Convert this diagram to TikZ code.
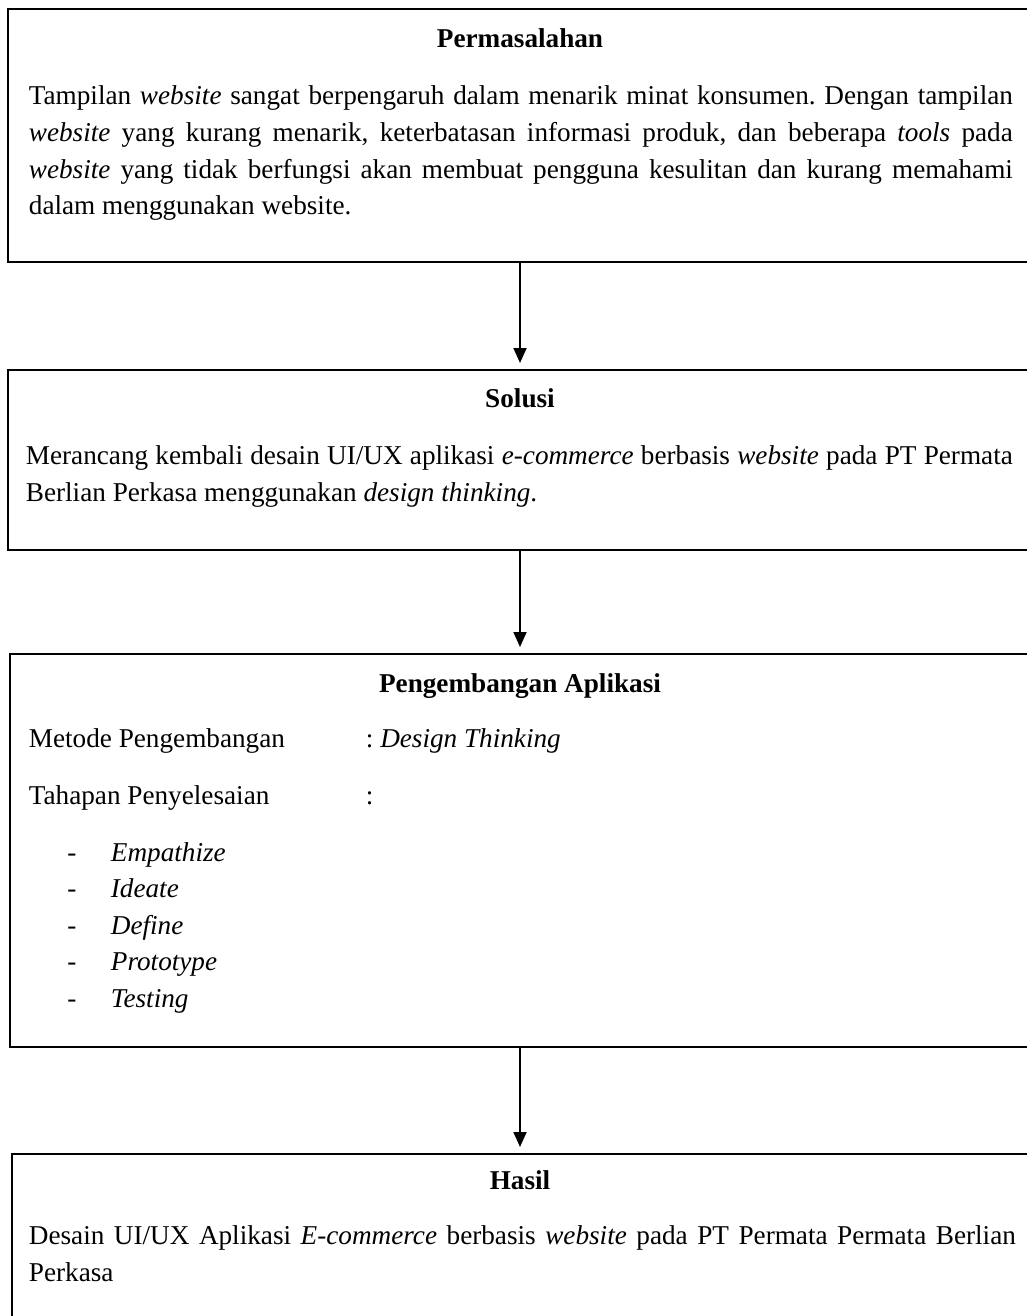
\documentclass[tikz,border=0pt]{standalone}
\usepackage{fontspec}
\setmainfont{Liberation Serif}
\usetikzlibrary{
  arrows.meta % For arrow tips
}
\newcommand\ukuran{\fontsize{13.6}{18.35}\selectfont}
\hyphenpenalty=10000
\frenchspacing

\begin{document}
\begin{tikzpicture}[
      x=0.5pt, y=-0.5pt, % 1 unit = 1 pixel of the page
      line width=0.9pt, % Default line thickness
      >={Triangle[width=6.5pt,length=7.5pt]}, % Default arrow tip
      kotak/.style={draw, rectangle, anchor=north, inner sep=0pt}, % Style for boxes
      judul/.style={font=\ukuran\bfseries, anchor=base, inner sep=0pt}, % Box titles
      isi/.style={font=\ukuran, anchor=north west, align=justify, inner sep=0pt}, % Paragraphs
      teks/.style={font=\ukuran, anchor=base west, inner sep=0pt}, % Single lines
      panah/.style={->, shorten >=3pt}, % Style for arrows
    ]
    \useasboundingbox (0,0) rectangle (1027,1316);
    \clip (0,0) rectangle (1027,1316);
    % Kotak
    \node[kotak, minimum width=512pt, minimum height=126.5pt] (masalah) at (520,8) {};
    \node[kotak, minimum width=512pt, minimum height=90pt] (solusi) at (520,369) {};
    \node[kotak, minimum width=510pt, minimum height=196.5pt] (metode) at (520,653) {};
    \node[kotak, minimum width=508pt, minimum height=90pt] (hasil) at (520,1153) {};
    % Panah
    \draw[panah] (masalah.south) -- (solusi.north);
    \draw[panah] (solusi.south) -- (metode.north);
    \draw[panah] (metode.south) -- (hasil.north);
    % Permasalahan
    \node[judul] (jMasalah) at (520,48) {Permasalahan};
    \node[isi, text width=492pt] (tMasalah) at (28,85) {Tampilan \textit{website} sangat berpengaruh dalam menarik minat konsumen. Dengan tampilan\linebreak
      \textit{website} yang kurang menarik, keterbatasan informasi produk, dan beberapa \textit{tools} pada\linebreak
      \textit{website} yang tidak berfungsi akan membuat pengguna kesulitan dan kurang memahami\linebreak
      dalam menggunakan website.};
    % Solusi
    \node[judul] (jSolusi) at (520,407) {Solusi};
    \node[isi, text width=493.5pt] (tSolusi) at (25,445) {Merancang kembali desain UI/UX aplikasi \textit{e-commerce} berbasis \textit{website} pada PT Permata\linebreak
      Berlian Perkasa menggunakan \textit{design thinking}.};
    % Pengembangan Aplikasi
    \node[judul] (jMetode) at (520,692) {Pengembangan Aplikasi};
    \node[teks] (lMetode) at (28,747) {Metode Pengembangan};
    \node[teks] (vMetode) at (365,747) {: \textit{Design Thinking}};
    \node[teks] (lTahap) at (28,804) {Tahapan Penyelesaian};
    \node[teks] (vTahap) at (365,804) {:};
    \foreach \langkah [count=\i] in {Empathize, Ideate, Define, Prototype, Testing} {
      \node[teks, anchor=base] (strip\i) at (72,{861+36.6*(\i-1)}) {-};
      \node[teks] (tahap\i) at (110,{861+36.6*(\i-1)}) {\textit{\langkah}};
    }
    % Hasil
    \node[judul] (jHasil) at (520,1189) {Hasil};
    \node[isi, text width=493.5pt] (tHasil) at (28,1225) {Desain UI/UX Aplikasi \textit{E-commerce} berbasis \textit{website} pada PT Permata Permata Berlian\linebreak
      Perkasa};
  \end{tikzpicture}
\end{document}
